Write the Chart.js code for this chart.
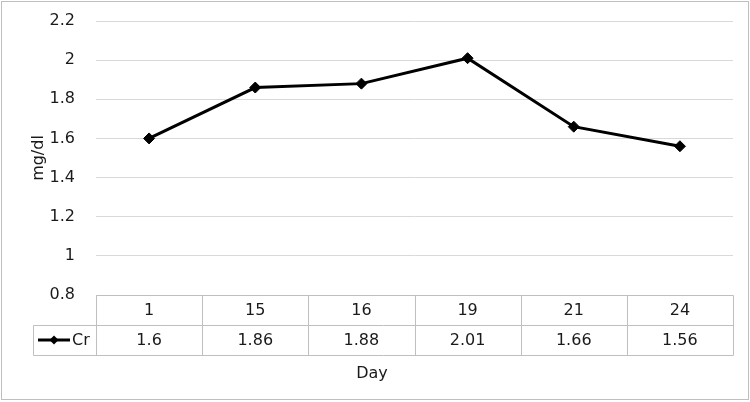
<!DOCTYPE html>
<html>
<head>
<meta charset="utf-8">
<script src="https://cdn.jsdelivr.net/npm/chart.js@4.4.1/dist/chart.umd.min.js"></script>
<style>
  html, body { margin: 0; padding: 0; background: #fff; }
  canvas { display: block; }
</style>
</head>
<body>
<canvas id="c" width="750" height="402"></canvas>
<script>
const categories = ['1', '15', '16', '19', '21', '24'];
const crValues = [1.6, 1.86, 1.88, 2.01, 1.66, 1.56];
const seriesName = 'Cr';
const yTitle = 'mg/dl';
const xTitle = 'Day';
const yMin = 0.8, yMax = 2.2, yStep = 0.2;

const FONT = '"DejaVu Sans", sans-serif';
const TEXT = '#1a1a1a';

const tablePlugin = {
  id: 'dataTable',
  afterDraw(chart) {
    const { ctx, chartArea: a, scales: { x } } = chart;
    const n = categories.length;
    const half = (x.getPixelForValue(1) - x.getPixelForValue(0)) / 2;
    const top = a.bottom, r1 = top + 30, r2 = top + 60;
    const legendLeft = 33;
    const px = v => Math.round(v) + 0.5;
    const line = (x1, y1, x2, y2) => {
      ctx.beginPath(); ctx.moveTo(px(x1), px(y1)); ctx.lineTo(px(x2), px(y2)); ctx.stroke();
    };
    ctx.save();
    ctx.strokeStyle = '#bfbfbf';
    ctx.lineWidth = 1;
    line(a.left, top, a.right, top);
    line(legendLeft, r1, a.right, r1);
    line(legendLeft, r2, a.right, r2);
    for (let i = 0; i <= n; i++) {
      const xx = i < n ? x.getPixelForValue(i) - half : a.right;
      line(xx, top, xx, r2);
    }
    line(legendLeft, r1, legendLeft, r2);

    ctx.fillStyle = TEXT;
    ctx.font = '16px ' + FONT;
    ctx.textAlign = 'center';
    ctx.textBaseline = 'middle';
    for (let i = 0; i < n; i++) {
      const cx = x.getPixelForValue(i);
      ctx.fillText(categories[i], cx, (top + r1) / 2 + 1);
      ctx.fillText(String(crValues[i]), cx, (r1 + r2) / 2 + 1);
    }
    // legend key
    const ky = (r1 + r2) / 2;
    ctx.strokeStyle = '#000';
    ctx.lineWidth = 3;
    ctx.beginPath(); ctx.moveTo(38, ky); ctx.lineTo(70, ky); ctx.stroke();
    ctx.fillStyle = '#000';
    ctx.beginPath();
    ctx.moveTo(54, ky - 4.5); ctx.lineTo(58.5, ky); ctx.lineTo(54, ky + 4.5); ctx.lineTo(49.5, ky);
    ctx.closePath(); ctx.fill();
    ctx.fillStyle = TEXT;
    ctx.textAlign = 'left';
    ctx.fillText(seriesName, 72, ky + 1);

    // x title
    ctx.textAlign = 'center';
    ctx.fillText(xTitle, 372, 374);

    // y title
    ctx.save();
    ctx.translate(39, (a.top + a.bottom) / 2);
    ctx.rotate(-Math.PI / 2);
    ctx.fillText(yTitle, 0, 0);
    ctx.restore();

    // outer border
    ctx.strokeStyle = '#bfbfbf';
    ctx.lineWidth = 1;
    ctx.strokeRect(1.5, 1.5, 747, 398);
    ctx.restore();
  }
};

new Chart(document.getElementById('c'), {
  type: 'line',
  data: {
    labels: categories,
    datasets: [{
      label: seriesName,
      data: crValues,
      borderColor: '#000',
      backgroundColor: '#000',
      borderWidth: 3,
      pointStyle: 'rectRot',
      pointRadius: 5.5,
      pointBorderWidth: 1,
      pointBackgroundColor: '#000',
      pointBorderColor: '#000',
      tension: 0
    }]
  },
  options: {
    responsive: false,
    devicePixelRatio: 1,
    animation: false,
    layout: { padding: { left: 0, right: 17, top: 21, bottom: 99 } },
    plugins: { legend: { display: false }, tooltip: { enabled: false } },
    scales: {
      x: {
        type: 'category',
        offset: true,
        ticks: { display: false },
        grid: { display: false },
        border: { display: false }
      },
      y: {
        min: yMin,
        max: yMax,
        ticks: {
          stepSize: yStep,
          padding: 21,
          color: TEXT,
          font: { family: FONT, size: 16 },
          callback: v => String(+v.toFixed(1))
        },
        grid: { color: '#d9d9d9', lineWidth: 1, drawTicks: false },
        border: { display: false },
        afterFit(s) { s.width = 96; s.paddingTop = 0; s.paddingBottom = 0; }
      }
    }
  },
  plugins: [tablePlugin]
});
</script>
</body>
</html>
